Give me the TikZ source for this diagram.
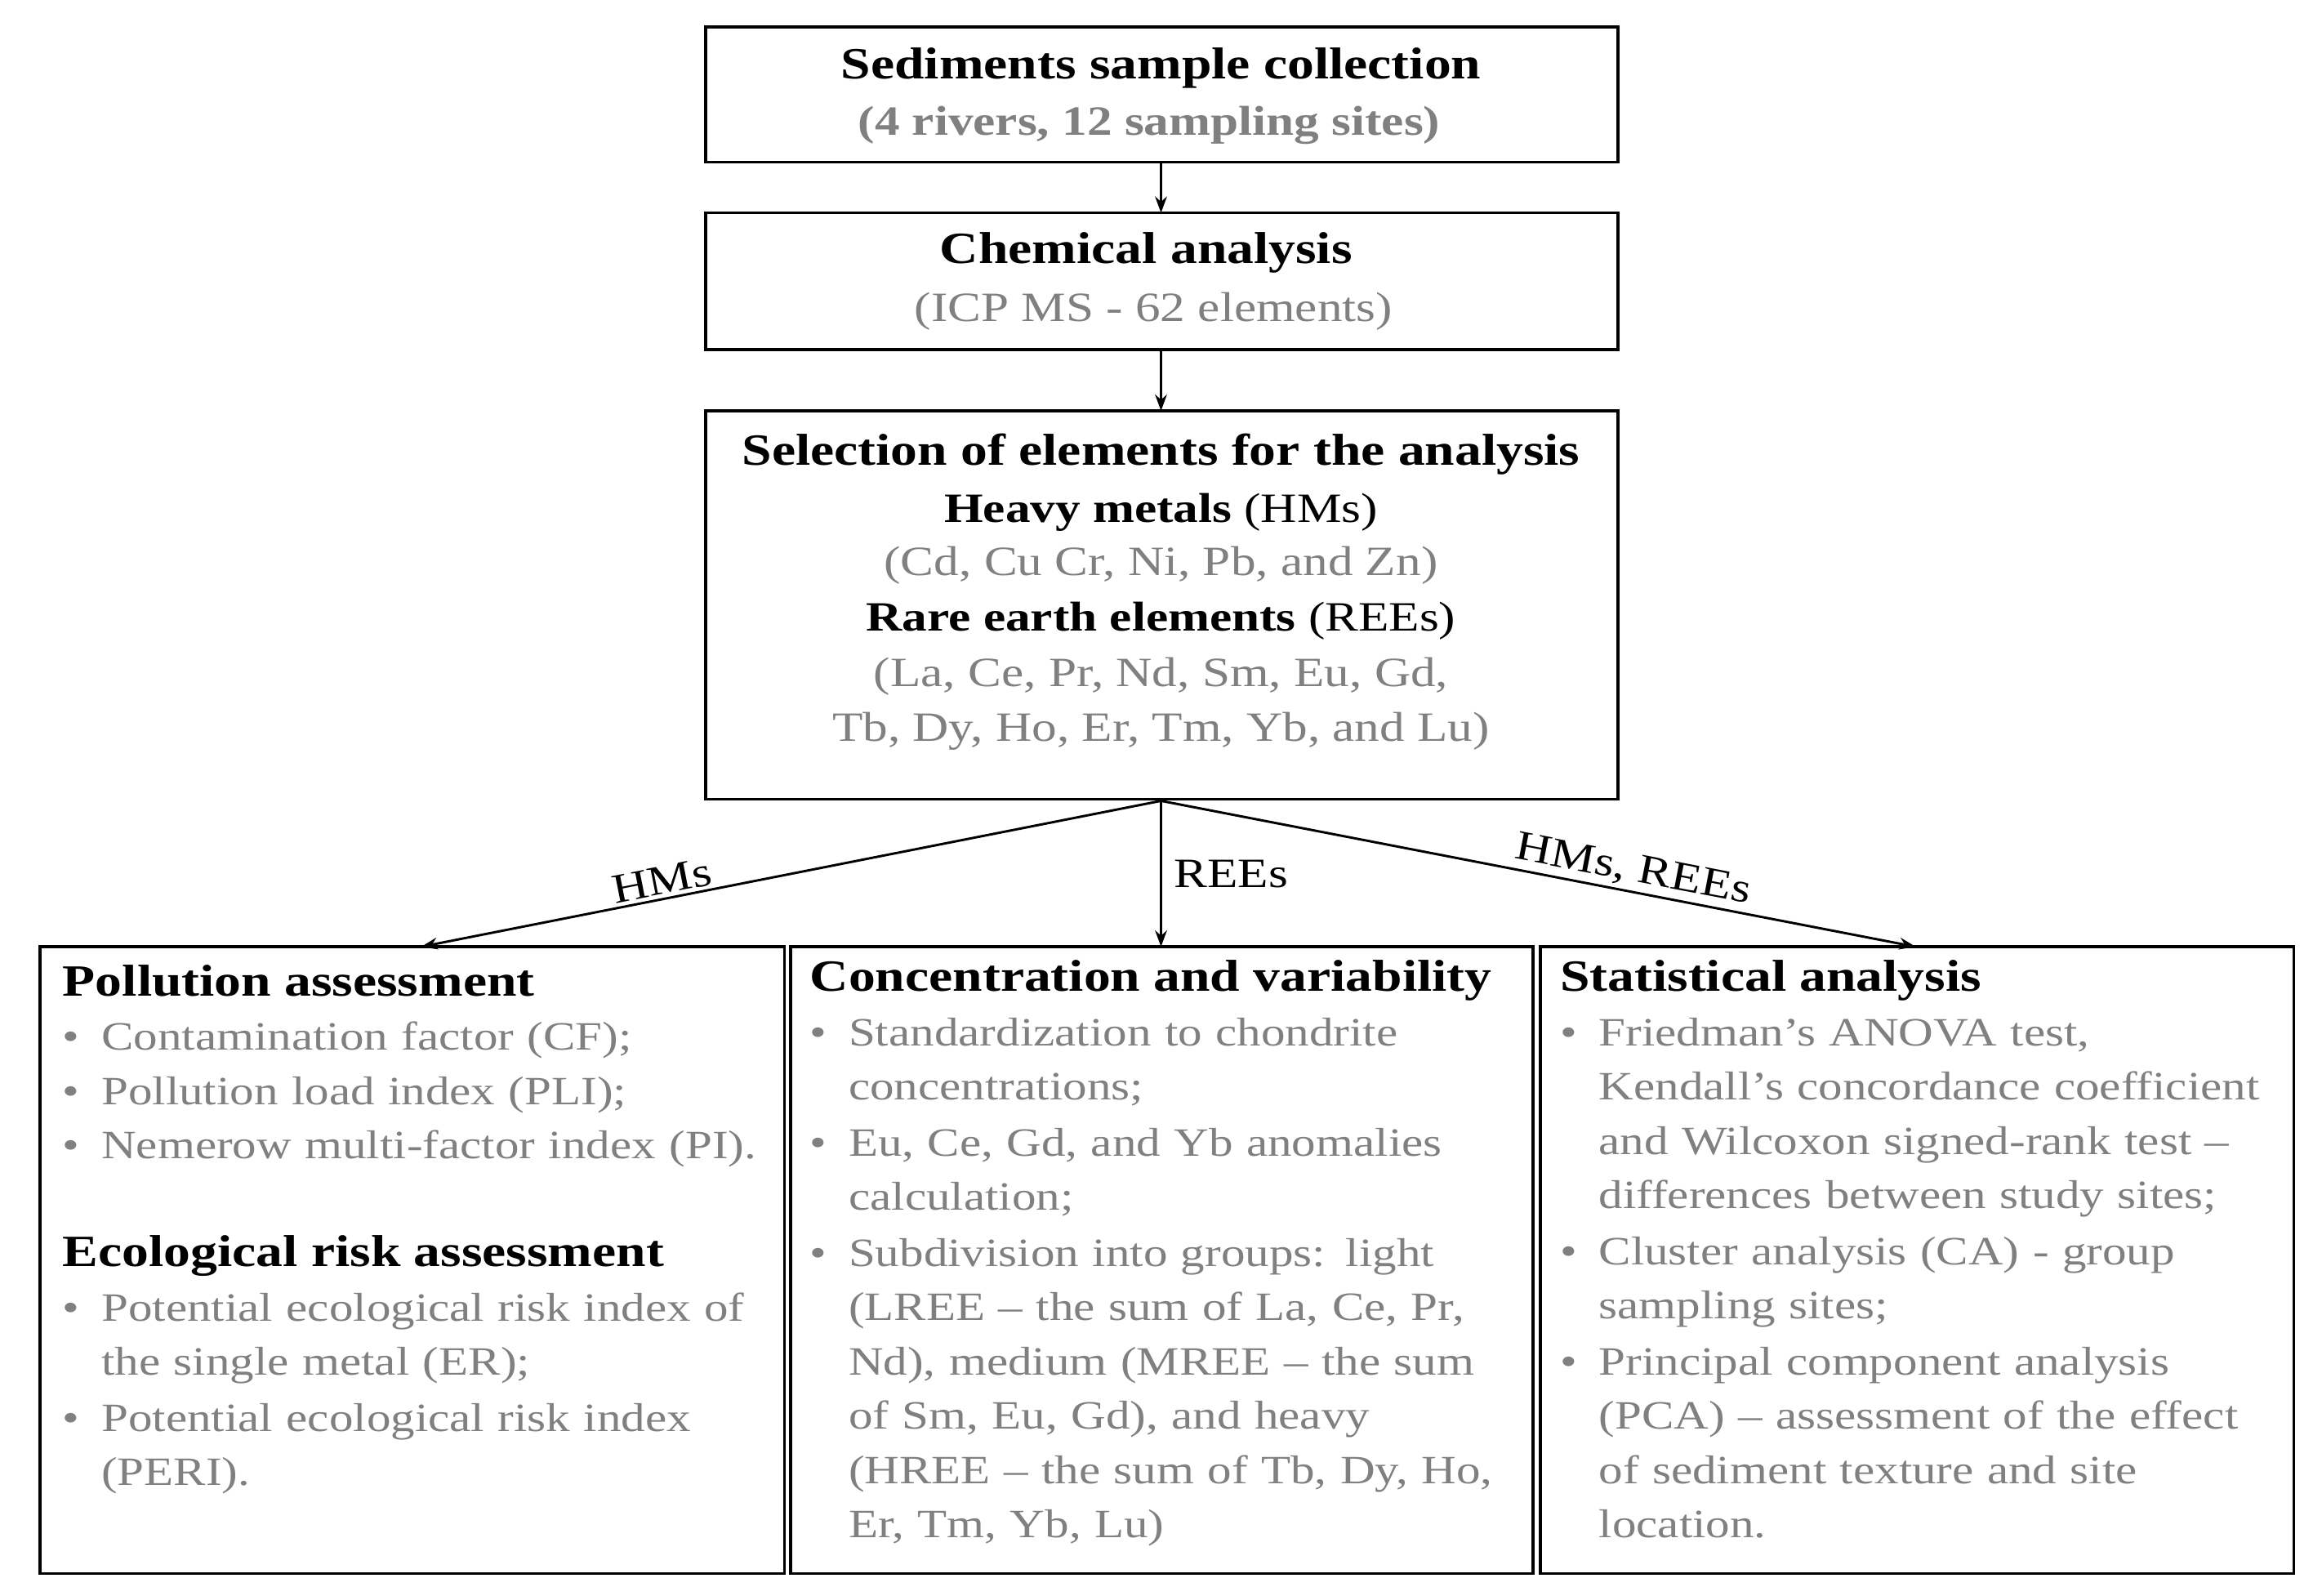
\documentclass[tikz,border=0pt]{standalone}
\usepackage{fontspec}
\setmainfont{Liberation Serif}[FakeStretch=1.2]
\usetikzlibrary{arrows.meta}
\definecolor{gr}{HTML}{808080}
\newcommand{\bit}[1]{\par\noindent\makebox[26pt][l]{\textbullet}\begin{tabular}[t]{@{}l@{}}#1\end{tabular}}
\begin{document}
\begin{tikzpicture}[x=1pt,y=-1pt,
  box/.style={draw,line width=2pt},
  arr/.style={-{Stealth[length=11pt,width=8pt]},line width=1.6pt},
  big/.style={font=\fontsize{30}{37}\selectfont\bfseries},
  txt/.style={align=center,font=\fontsize{28}{36.5}\selectfont},
  col/.style={anchor=north west,text width=#1,align=left,inner sep=0pt,font=\fontsize{27}{36.5}\selectfont}]
\useasboundingbox (0,0) rectangle (1560,1072);
\draw[box] (474,18) rectangle (1087,109);
\node[big] (t1) at (780,46) {Sediments sample collection};
\node[big,text=gr,font=\fontsize{28}{36}\selectfont\bfseries] (s1) at (772,84) {(4 rivers, 12 sampling sites)};
\draw[box] (474,143) rectangle (1087,235);
\node[big] (t2) at (770,170) {Chemical analysis};
\node[txt,text=gr] (s2) at (775,209) {(ICP MS - 62 elements)};
\draw[box] (474,276) rectangle (1087,537);
\node[big] (t3) at (780,305) {Selection of elements for the analysis};
\node[txt] (h1) at (780,344) {\textbf{Heavy metals} (HMs)};
\node[txt,text=gr] (h2) at (780,380) {(Cd, Cu Cr, Ni, Pb, and Zn)};
\node[txt] (h3) at (780,417) {\textbf{Rare earth elements} (REEs)};
\node[txt,text=gr] (h4) at (780,473) {(La, Ce, Pr, Nd, Sm, Eu, Gd,\\Tb, Dy, Ho, Er, Tm, Yb, and Lu)};
\coordinate (a1) at (780,109); \coordinate (a1e) at (780,143);
\coordinate (a2) at (780,235); \coordinate (a2e) at (780,276);
\coordinate (src) at (780,538);
\coordinate (L) at (283,636); \coordinate (M) at (780,636); \coordinate (R) at (1287,636);
\draw[arr] (a1) -- (a1e);
\draw[arr] (a2) -- (a2e);
\draw[arr] (src) -- (L) node[pos=0.67,sloped,above,txt,inner sep=2pt] {HMs};
\draw[arr] (src) -- (M) node[pos=0.5,right,txt,inner sep=8pt] {REEs};
\draw[arr] (src) -- (R) node[pos=0.62,sloped,above,txt,inner sep=2pt] {HMs, REEs};
\draw[box] (27,636) rectangle (527,1057);
\draw[box] (531,636) rectangle (1030,1057);
\draw[box] (1035,636) rectangle (1541,1057);
\node[col=480pt] (c1) at (42,648) {{\fontsize{30}{37}\selectfont\bfseries Pollution assessment}\color{gr}
\bit{Contamination factor (CF);}
\bit{Pollution load index (PLI);}
\bit{Nemerow multi-factor index (PI).}
\par\vspace{36pt}\noindent{\color{black}\fontsize{30}{37}\selectfont\bfseries Ecological risk assessment}
\bit{Potential ecological risk index of\\the single metal (ER);}
\bit{Potential ecological risk index\\(PERI).}};
\node[col=480pt] (c2) at (544,645) {{\fontsize{30}{37}\selectfont\bfseries Concentration and variability}\color{gr}
\bit{Standardization to chondrite\\concentrations;}
\bit{Eu, Ce, Gd, and Yb anomalies\\calculation;}
\bit{Subdivision into groups: light\\(LREE -- the sum of La, Ce, Pr,\\Nd), medium (MREE -- the sum\\of Sm, Eu, Gd), and heavy\\(HREE -- the sum of Tb, Dy, Ho,\\Er, Tm, Yb, Lu)}};
\node[col=490pt] (c3) at (1048,645) {{\fontsize{30}{37}\selectfont\bfseries Statistical analysis}\color{gr}
\bit{Friedman's ANOVA test,\\Kendall's concordance coefficient\\and Wilcoxon signed-rank test --\\differences between study sites;}
\bit{Cluster analysis (CA) - group\\sampling sites;}
\bit{Principal component analysis\\(PCA) -- assessment of the effect\\of sediment texture and site\\location.}};
\end{tikzpicture}
\end{document}
